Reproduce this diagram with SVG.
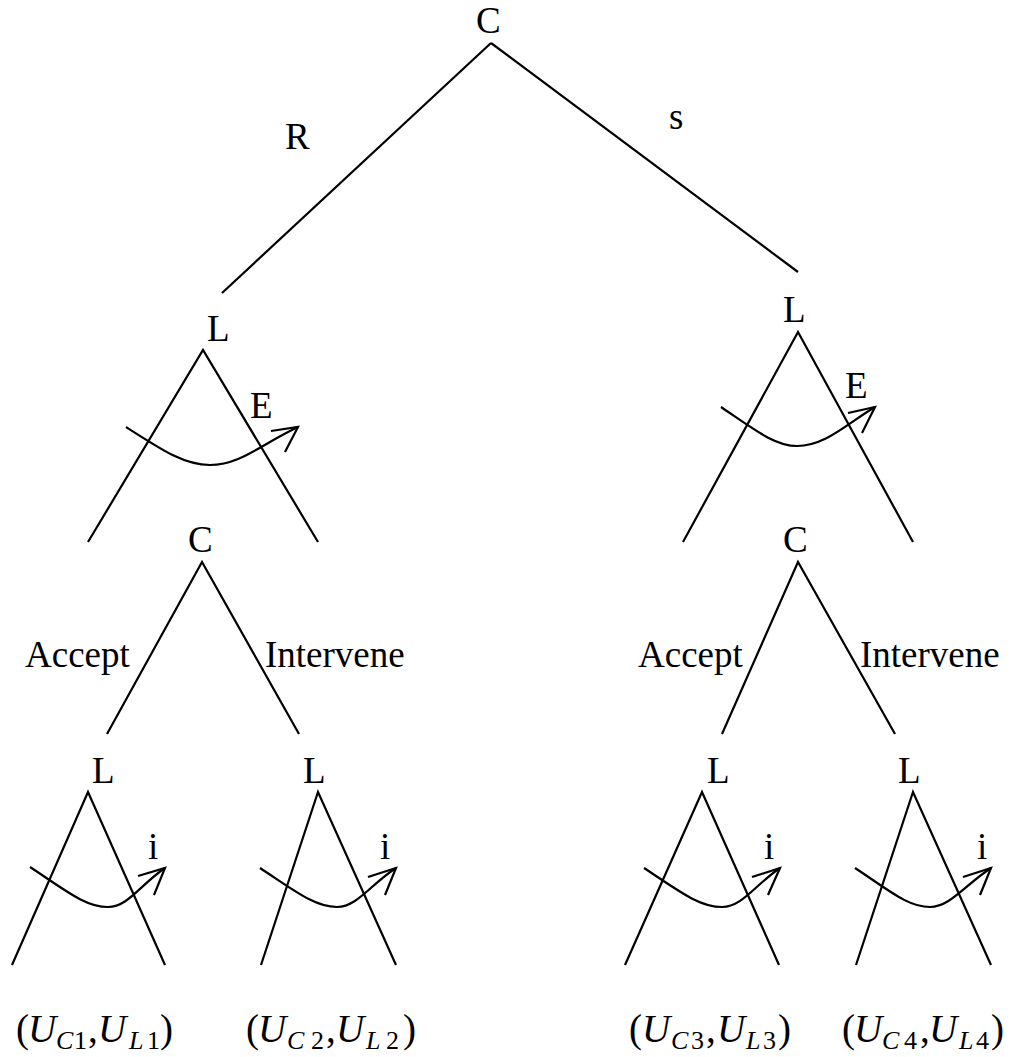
<svg xmlns="http://www.w3.org/2000/svg" width="1010" height="1057" viewBox="0 0 1010 1057">
<style>
  .t { font-family: "Liberation Serif", "Times New Roman", serif; font-size: 37px; fill: #000; }
  .p { font-size: 39px; }
  .it { font-style: italic; }
  .sub { font-size: 26px; }
  .ln { stroke: #000; stroke-width: 2.2; fill: none; }
</style>
<rect width="1010" height="1057" fill="#fff"/>
<g id="connectors">
  <line class="ln" x1="491" y1="43" x2="222" y2="293"/>
  <line class="ln" x1="491" y1="43" x2="798" y2="272"/>
  <polyline class="ln" points="88,542 203,350 318,542"/>
  <polyline class="ln" points="683,542 798,332 913,542"/>
  <polyline class="ln" points="107,734 202,562 299,734"/>
  <polyline class="ln" points="722,734 798,562 895,734"/>
  <polyline class="ln" points="12,965 88,792 165,965"/>
  <polyline class="ln" points="261,965 318,792 396,965"/>
  <polyline class="ln" points="625,965 702,792 779,965"/>
  <polyline class="ln" points="856,965 913,792 991,965"/>
  <g id="moves">
    <path class="ln" d="M126,427 C165,452 185,465 210,465 C240,465 260,445 298,427"/>
    <polyline class="ln" points="271,431 298,427 285,452"/>
    <path class="ln" d="M721,407 C755,430 775,446 797,446 C825,446 845,425 875,407"/>
    <polyline class="ln" points="848,413 875,407 862,433"/>
    <path class="ln" d="M30,867 C65,890 85,907 108,907 C128,907 140,885 165,868"/>
    <polyline class="ln" points="138,876 165,868 154,895"/>
    <path class="ln" d="M260,868 C295,891 315,907 337,907 C357,907 370,885 396,868"/>
    <polyline class="ln" points="368,877 396,868 385,895"/>
    <path class="ln" d="M644,868 C679,891 699,907 722,907 C742,907 755,885 780,868"/>
    <polyline class="ln" points="752,877 780,868 768,895"/>
    <path class="ln" d="M855,868 C890,891 908,907 930,907 C950,907 965,885 991,868"/>
    <polyline class="ln" points="963,877 991,868 980,895"/>
  </g>
  <g id="edge-labels">
    <text class="t" x="285" y="149">R</text>
    <text class="t" x="669" y="129">s</text>
    <text class="t" x="250" y="418">E</text>
    <text class="t" x="845" y="398">E</text>
    <text class="t" x="25" y="667">Accept</text>
    <text class="t" x="265" y="667">Intervene</text>
    <text class="t" x="638" y="667">Accept</text>
    <text class="t" x="860" y="667">Intervene</text>
    <text class="t" x="148" y="859">i</text>
    <text class="t" x="380" y="859">i</text>
    <text class="t" x="764" y="859">i</text>
    <text class="t" x="977" y="859">i</text>
  </g>
</g>
<g id="node-root"><text class="t" x="476" y="33">C</text></g>
<g id="node-L-left"><text class="t" x="207" y="341">L</text></g>
<g id="node-L-right"><text class="t" x="783" y="322">L</text></g>
<g id="node-C-left"><text class="t" x="188" y="552">C</text></g>
<g id="node-C-right"><text class="t" x="783" y="552">C</text></g>
<g id="node-L1"><text class="t" x="92" y="783">L</text></g>
<g id="node-L2"><text class="t" x="303" y="783">L</text></g>
<g id="node-L3"><text class="t" x="707" y="783">L</text></g>
<g id="node-L4"><text class="t" x="898" y="783">L</text></g>
<g id="payoff-1">
  <text class="t p" y="1042"><tspan x="16">(</tspan><tspan class="it" x="28">U</tspan><tspan class="it sub" x="56" y="1049">C</tspan><tspan class="sub" x="74" y="1049">1</tspan><tspan x="88" y="1042">,</tspan><tspan class="it" x="98">U</tspan><tspan class="it sub" x="129" y="1049">L</tspan><tspan class="sub" x="147" y="1049">1</tspan><tspan x="160" y="1042">)</tspan></text>
</g>
<g id="payoff-2">
  <text class="t p" y="1042"><tspan x="246">(</tspan><tspan class="it" x="258">U</tspan><tspan class="it sub" x="287" y="1049">C</tspan><tspan class="sub" x="311" y="1049">2</tspan><tspan x="326" y="1042">,</tspan><tspan class="it" x="336">U</tspan><tspan class="it sub" x="366" y="1049">L</tspan><tspan class="sub" x="386" y="1049">2</tspan><tspan x="403" y="1042">)</tspan></text>
</g>
<g id="payoff-3">
  <text class="t p" y="1042"><tspan x="629">(</tspan><tspan class="it" x="642">U</tspan><tspan class="it sub" x="671" y="1049">C</tspan><tspan class="sub" x="691" y="1049">3</tspan><tspan x="706" y="1042">,</tspan><tspan class="it" x="717">U</tspan><tspan class="it sub" x="746" y="1049">L</tspan><tspan class="sub" x="763" y="1049">3</tspan><tspan x="778" y="1042">)</tspan></text>
</g>
<g id="payoff-4">
  <text class="t p" y="1042"><tspan x="842">(</tspan><tspan class="it" x="854">U</tspan><tspan class="it sub" x="882" y="1049">C</tspan><tspan class="sub" x="904" y="1049">4</tspan><tspan x="920" y="1042">,</tspan><tspan class="it" x="929">U</tspan><tspan class="it sub" x="959" y="1049">L</tspan><tspan class="sub" x="976" y="1049">4</tspan><tspan x="991" y="1042">)</tspan></text>
</g>
</svg>
